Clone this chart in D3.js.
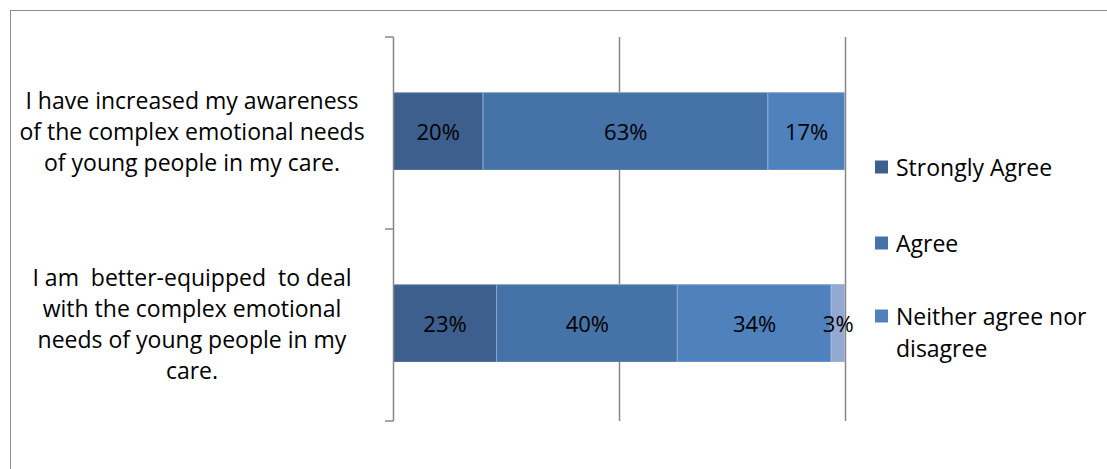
<!DOCTYPE html>
<html>
<head>
<meta charset="utf-8">
<script src="https://cdn.jsdelivr.net/npm/d3@7"></script>
<style>
  html, body { margin: 0; padding: 0; background: #fff; }
  svg { display: block; }
  text { font-family: "Open Sans", Lato, sans-serif; fill: #000; }
</style>
</head>
<body>
<svg id="chart" width="1107" height="469"></svg>
<script>
// Survey statements (each entry is the wrapped lines of the label)
const statements = [
  ["I have increased my awareness", "of the complex emotional needs", "of young people in my care."],
  ["I am  better-equipped  to deal", "with the complex emotional", "needs of young people in my", "care."]
];
const statementKeys = ["awareness", "equipped"];

// Response categories, in stacking order
const responses = ["Strongly Agree", "Agree", "Neither agree nor disagree", "Disagree"];
const responseColors = ["#3C5F8D", "#4572A7", "#4F81BD", "#94A9D2"];

// Percentage of respondents per response, one value per statement
const stronglyAgree = [20, 23];
const agree = [63, 40];
const neither = [17, 34];
const disagree = [0, 3];

// Legend shows the first three responses
const legendEntries = [
  ["Strongly Agree"],
  ["Agree"],
  ["Neither agree nor", "disagree"]
];

const xTicks = [0, 50, 100];

const rows = statementKeys.map((k, i) => ({
  key: k,
  "Strongly Agree": stronglyAgree[i],
  "Agree": agree[i],
  "Neither agree nor disagree": neither[i],
  "Disagree": disagree[i]
}));

const svg = d3.select("#chart");

// Outer chart frame
svg.append("rect")
  .attr("x", 10.5).attr("y", 10.5)
  .attr("width", 1110).attr("height", 470)
  .attr("fill", "none").attr("stroke", "#8c8c8c").attr("stroke-width", 1);

const plot = { left: 393, right: 845, top: 37, bottom: 421 };

const x = d3.scaleLinear().domain([0, 100]).range([plot.left, plot.right]);
const y = d3.scaleBand().domain(statementKeys).range([plot.top, plot.bottom]).padding(0);
const barH = y.bandwidth() * 0.405;
const color = d3.scaleOrdinal().domain(responses).range(responseColors);

// Vertical gridlines
svg.append("g")
  .selectAll("line")
  .data(xTicks.slice(1))
  .join("line")
  .attr("x1", d => Math.round(x(d)) + 0.5)
  .attr("x2", d => Math.round(x(d)) + 0.5)
  .attr("y1", plot.top)
  .attr("y2", plot.bottom)
  .attr("stroke", "#868686")
  .attr("stroke-width", 1.5);

// Stacked bars
const stack = d3.stack().keys(responses);
const series = stack(rows);

const barTop = d => y(d.data.key) + (y.bandwidth() - barH) / 2 - 2;

const layers = svg.append("g")
  .selectAll("g")
  .data(series)
  .join("g")
  .attr("fill", s => color(s.key));

layers.selectAll("rect")
  .data(s => s.filter(d => d[1] > d[0]))
  .join("rect")
  .attr("x", d => x(d[0]))
  .attr("y", d => barTop(d))
  .attr("width", d => x(d[1]) - x(d[0]))
  .attr("height", barH);

// Light edge along the top of each segment and between segments
layers.selectAll("path.edge")
  .data(s => s.filter(d => d[1] > d[0]))
  .join("path")
  .attr("class", "edge")
  .attr("d", d => {
    const x0 = x(d[0]), x1 = x(d[1]), t = barTop(d);
    return `M${x0},${t + 0.5}H${x1}M${x1 - 0.5},${t}V${t + barH}`;
  })
  .attr("fill", "none")
  .attr("stroke", "#a9bcd9")
  .attr("stroke-width", 1)
  .attr("opacity", 0.8);

// Value labels
layers.selectAll("text")
  .data(s => s.filter(d => d[1] > d[0]))
  .join("text")
  .attr("x", d => (x(d[0]) + x(d[1])) / 2)
  .attr("y", d => barTop(d) + barH / 2)
  .attr("text-anchor", "middle")
  .attr("dominant-baseline", "central")
  .attr("font-size", 22)
  .attr("fill", "#000")
  .text(d => `${d[1] - d[0]}%`);

// Category axis: line with ticks at band boundaries
const axisG = svg.append("g").attr("stroke", "#868686").attr("stroke-width", 1.5);
axisG.append("line")
  .attr("x1", plot.left + 0.5).attr("x2", plot.left + 0.5)
  .attr("y1", plot.top).attr("y2", plot.bottom);
const boundaries = statementKeys.map(k => y(k)).concat([y(statementKeys[statementKeys.length - 1]) + y.bandwidth()]);
axisG.selectAll("line.tick")
  .data(boundaries)
  .join("line")
  .attr("class", "tick")
  .attr("x1", plot.left - 8).attr("x2", plot.left + 0.5)
  .attr("y1", d => d).attr("y2", d => d);

// Category labels
const lineH = 31;
svg.append("g")
  .selectAll("text")
  .data(statementKeys)
  .join("text")
  .attr("text-anchor", "middle")
  .attr("font-size", 23)
  .each(function (k, i) {
    const lines = statements[i];
    const cy = y(k) + y.bandwidth() / 2 - 2;
    const start = cy - (lines.length - 1) * lineH / 2;
    d3.select(this).selectAll("tspan")
      .data(lines)
      .join("tspan")
      .attr("x", 192)
      .attr("y", (d, j) => start + j * lineH)
      .attr("dominant-baseline", "central")
      .style("white-space", "pre")
      .text(d => d);
  });

// Legend
const legendY = [167, 243, 316];
const legend = svg.append("g");
legendEntries.forEach((lines, i) => {
  const g = legend.append("g");
  g.append("rect")
    .attr("x", 875).attr("y", legendY[i] - 6.5)
    .attr("width", 13).attr("height", 13)
    .attr("fill", color(responses[i]));
  lines.forEach((ln, j) => {
    g.append("text")
      .attr("x", 896)
      .attr("y", legendY[i] + j * 32)
      .attr("dominant-baseline", "central")
      .attr("font-size", 23)
      .text(ln);
  });
});
</script>
</body>
</html>
